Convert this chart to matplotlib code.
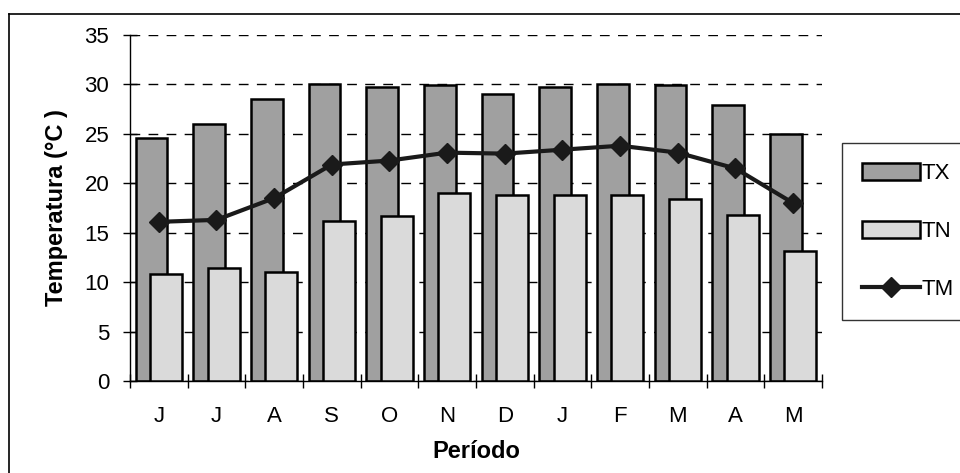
import matplotlib
matplotlib.use("Agg")
import matplotlib.pyplot as plt
import numpy as np
from matplotlib.lines import Line2D

plt.rcParams['font.family'] = ['Liberation Sans', 'DejaVu Sans']

# monthly values
meses = ['J', 'J', 'A', 'S', 'O', 'N', 'D', 'J', 'F', 'M', 'A', 'M']
tx = [24.6, 26.0, 28.5, 30.0, 29.7, 29.9, 29.0, 29.7, 30.0, 29.9, 27.9, 25.0]
tn = [10.8, 11.4, 11.0, 16.2, 16.7, 19.0, 18.8, 18.8, 18.8, 18.4, 16.8, 13.1]
tm = [16.1, 16.3, 18.5, 21.9, 22.3, 23.1, 23.0, 23.4, 23.8, 23.1, 21.5, 18.0]

fig = plt.figure(figsize=(9.6, 4.73), dpi=100)
ax = fig.add_axes([0.1354, 0.1945, 0.7208, 0.7315])

x = np.arange(len(meses))
w = 0.55
b1 = ax.bar(x - 0.125, tx, w, color='#a0a0a0', edgecolor='black', linewidth=1.8, label='TX', zorder=2)
b2 = ax.bar(x + 0.125, tn, w, color='#dadada', edgecolor='black', linewidth=1.8, label='TN', zorder=3)
l1, = ax.plot(x, tm, color='#1a1a1a', lw=3, marker='D', markersize=10, label='TM', zorder=4)

ax.set_xlim(-0.5, len(meses) - 0.5)
ax.set_ylim(0, 35)
ax.set_yticks(range(0, 36, 5))
ax.set_xticks(x)
ax.set_xticklabels(meses)
ax.set_xticks(np.arange(-0.5, len(meses)), minor=True)

ax.yaxis.grid(True, color='black', linestyle=(0, (7, 6)), linewidth=1.0, zorder=0)
ax.set_axisbelow(True)

for s in ['top', 'right']:
    ax.spines[s].set_visible(False)
for s in ['left', 'bottom']:
    ax.spines[s].set_linewidth(1.0)

ax.tick_params(axis='y', direction='inout', length=10, width=1, labelsize=16, pad=10)
ax.tick_params(axis='x', which='major', length=0, labelsize=16, pad=18)
ax.tick_params(axis='x', which='minor', direction='inout', length=10, width=1)

ax.set_ylabel('Temperatura (°C )', fontsize=17, fontweight='bold', labelpad=12)
ax.set_xlabel('Período', fontsize=17, fontweight='bold', labelpad=9)

# outer frame of the chart (right and bottom edges lie outside the scan)
fig.add_artist(Line2D([0.0094, 0.0094], [0.0, 0.9704], transform=fig.transFigure, color='black', lw=1.2))
fig.add_artist(Line2D([0.0094, 1.0], [0.9704, 0.9704], transform=fig.transFigure, color='black', lw=1.2))

leg = fig.legend([b1, b2, l1], ['TX', 'TN', 'TM'], loc='upper left',
                 bbox_to_anchor=(0.877, 0.698), fontsize=16,
                 frameon=True, fancybox=False, edgecolor='black', handlelength=2.6,
                 handleheight=0.8, labelspacing=1.65, handletextpad=0.1,
                 borderpad=0.9, borderaxespad=0)
leg.get_frame().set_linewidth(1.0)

fig.savefig('out.png', dpi=100)
